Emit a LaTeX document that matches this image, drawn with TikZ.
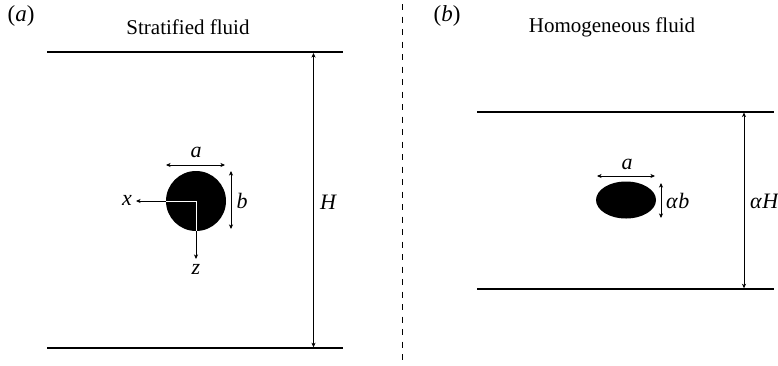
\documentclass[tikz,border=0pt]{standalone}
\usepackage{fontspec}
\setmainfont{Liberation Serif}
\usetikzlibrary{arrows.meta,shapes.geometric}
\begin{document}
\begin{tikzpicture}[x=1pt,y=-1pt,
  wall/.style={line width=2pt},
  tip/.tip={Stealth[length=4.5pt,width=4pt,inset=1.2pt]},
  dim/.style={line width=0.7pt,tip-tip},
  ax/.style={line width=0.8pt,-tip},
  lbl/.style={font=\fontsize{21}{24}\selectfont, inner sep=0pt},
  plbl/.style={font=\fontsize{23}{26}\selectfont, inner sep=0pt},
  ml/.style={font=\fontsize{22}{24}\selectfont\itshape, inner sep=0pt}]
\useasboundingbox (0,0) rectangle (778,365);
% panel (a)
\node[plbl] (pa) at (21,16) {(\textit{a})};
\node[lbl] (ta) at (188,27) {Stratified fluid};
\coordinate (atl) at (47,52); \coordinate (atr) at (343,52);
\coordinate (abl) at (47,348.3); \coordinate (abr) at (343,348.3);
\draw[wall] (atl) -- (atr);
\draw[wall] (abl) -- (abr);
\coordinate (Ht) at (313.5,53); \coordinate (Hb) at (313.5,347.3);
\draw[dim] (Ht) -- (Hb);
\node[ml] (H) at (328,202) {H};
\node[circle, fill=black, minimum size=60pt, inner sep=0pt] (body) at (196,201) {};
\coordinate (aL) at (166,165); \coordinate (aR) at (225,165);
\draw[dim] (aL) -- (aR);
\node[ml] (la) at (196,152) {a};
\coordinate (bT) at (231,171); \coordinate (bB) at (231,229);
\draw[dim] (bT) -- (bB);
\node[ml] (lb) at (242,201) {b};
\coordinate (xe) at (136,201); \coordinate (ze) at (196,259);
\draw[white, line width=0.8pt] (body.center) -- (body.west);
\draw[white, line width=0.8pt] (body.center) -- (body.south);
\draw[ax] (body.west) -- (xe);
\draw[ax] (body.south) -- (ze);
\node[ml] (lx) at (127,200) {x};
\node[ml] (lz) at (196,269) {z};
% divider
\coordinate (dT) at (402.5,4); \coordinate (dB) at (402.5,362);
\draw[line width=1.5pt, dash pattern=on 6pt off 6.5pt] (dT) -- (dB);
% panel (b)
\node[plbl] (pb) at (447,16) {(\textit{b})};
\node[lbl] (tb) at (612,27) {Homogeneous fluid};
\coordinate (btl) at (477,111.5); \coordinate (btr) at (774,111.5);
\coordinate (bbl) at (477,289.3); \coordinate (bbr) at (774,289.3);
\draw[wall] (btl) -- (btr);
\draw[wall] (bbl) -- (bbr);
\coordinate (aHt) at (744,112.5); \coordinate (aHb) at (744,288.3);
\draw[dim] (aHt) -- (aHb);
\node[ml, anchor=west] (laH) at (750,201) {α\kern0.6pt H};
\node[ellipse, fill=black, minimum width=60pt, minimum height=37pt, inner sep=0pt] (blob) at (626,200) {};
\coordinate (a2L) at (597,176); \coordinate (a2R) at (655,176);
\draw[dim] (a2L) -- (a2R);
\node[ml] (la2) at (627,164) {a};
\coordinate (abT) at (661,183); \coordinate (abB) at (661,218);
\draw[dim] (abT) -- (abB);
\node[ml, anchor=west] (lab) at (666,201) {α\kern0.6pt b};
\end{tikzpicture}
\end{document}
